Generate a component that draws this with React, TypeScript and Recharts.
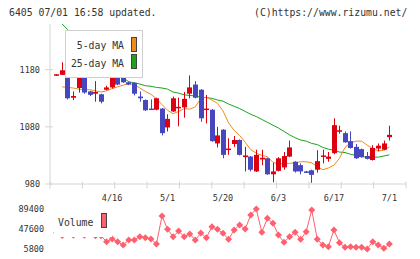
import { ComposedChart, Bar, Line, XAxis, YAxis } from "recharts";

const opens = [1170, 1171, 1166, 1131, 1148, 1178, 1142, 1138, 1137, 1145, 1149, 1171, 1167, 1158, 1157, 1133, 1127, 1112, 1110, 1112, 1079, 1107, 1113, 1114, 1138, 1154, 1145, 1110, 1110, 1051, 1075, 1040, 1050, 1057, 1027, 1028, 1002, 1023, 1025, 997, 1003, 1009, 1028, 1019, 1013, 1002, 1004, 1005, 1028, 1024, 1034, 1072, 1069, 1055, 1045, 1041, 1029, 1022, 1042, 1040, 1062];
const highs = [1172, 1193, 1179, 1142, 1180, 1180, 1143, 1160, 1138, 1152, 1180, 1173, 1168, 1159, 1158, 1142, 1128, 1128, 1131, 1113, 1102, 1133, 1131, 1141, 1170, 1160, 1146, 1136, 1111, 1080, 1076, 1060, 1064, 1058, 1045, 1029, 1040, 1040, 1026, 1017, 1027, 1036, 1056, 1020, 1016, 1003, 1005, 1039, 1040, 1036, 1095, 1082, 1072, 1072, 1050, 1042, 1036, 1048, 1051, 1056, 1082];
const lows = [1169, 1171, 1128, 1127, 1140, 1138, 1134, 1124, 1121, 1144, 1147, 1153, 1157, 1153, 1135, 1124, 1108, 1110, 1109, 1065, 1072, 1106, 1081, 1096, 1130, 1130, 1089, 1086, 1054, 1044, 1025, 1031, 1045, 1030, 1002, 1002, 1001, 1013, 996, 983, 1002, 1005, 1027, 1000, 997, 1000, 982, 1000, 1016, 1019, 1032, 1068, 1052, 1042, 1024, 1026, 1023, 1021, 1037, 1039, 1056];
const closes = [1172, 1179, 1130, 1134, 1177, 1140, 1136, 1141, 1124, 1149, 1171, 1154, 1158, 1154, 1138, 1130, 1109, 1111, 1130, 1069, 1094, 1130, 1115, 1129, 1149, 1131, 1095, 1112, 1055, 1065, 1031, 1042, 1057, 1031, 1030, 1005, 1031, 1026, 997, 1002, 1025, 1029, 1044, 1002, 1002, 1001, 996, 1020, 1030, 1028, 1083, 1074, 1053, 1043, 1025, 1027, 1024, 1043, 1047, 1051, 1066];

const ma5 = [null, 1150, 1149, 1148, 1146, 1145, 1145, 1143, 1141, 1143, 1147, 1150, 1153, 1156, 1154, 1148, 1142, 1137, 1129, 1119, 1109, 1103, 1107, 1112, 1111, 1115, 1130, 1132, 1127, 1121, 1108, 1087, 1074, 1065, 1053, 1040, 1034, 1030, 1028, 1018, 1015, 1016, 1016, 1017, 1019, 1019, 1017, 1010, 1005, 1008, 1013, 1025, 1044, 1052, 1055, 1055, 1048, 1042, 1038, 1039, 1045];
const ma25 = [1269, 1260, 1250, 1241, 1232, 1224, 1215, 1206, 1198, 1190, 1182, 1174, 1166, 1159, 1157, 1155, 1152, 1151, 1149, 1148, 1146, 1141, 1139, 1136, 1135, 1134, 1132, 1131, 1130, 1127, 1125, 1120, 1116, 1112, 1107, 1102, 1098, 1093, 1088, 1083, 1078, 1072, 1066, 1061, 1057, 1055, 1051, 1049, 1044, 1041, 1039, 1036, 1035, 1032, 1030, 1028, 1027, 1027, 1027, 1029, 1031];

const volumes = [40000, 34000, 43000, 34500, 46000, 34500, 41000, 33500, 33500, 21000, 26700, 21000, 14200, 24600, 24600, 31500, 29400, 26700, 16300, 74800, 47000, 31500, 43400, 31500, 37200, 24600, 39200, 29400, 52400, 47000, 38600, 26100, 45500, 56000, 47600, 76900, 89400, 40700, 70000, 59500, 35100, 19800, 31500, 40700, 26100, 42000, 87300, 26100, 14200, 10600, 45500, 19000, 9400, 10600, 9400, 9400, 5800, 21100, 14200, 7300, 16300];

const dateLabels = ["4/16", "5/1", "5/20", "6/3", "6/17", "7/1"];
const dateIdx = [10, 20, 30, 40, 50, 60];
const priceTicks = [980, 1080, 1180];
const volumeTicks = [5800, 47600, 89400];

const UP = "#dd0010";
const DOWN = "#4646bf";
const MA5_COLOR = "#f08c1a";
const MA25_COLOR = "#1aa51a";
const VOL_COLOR = "#ff6070";
const AXIS = "#d4d4d4";
const TEXT = "#333";
const MONO = '"DejaVu Sans Mono", monospace';

const X_DOMAIN: [number, number] = [-1.2, 63];
// 11 evenly spaced tick marks along the time axis, plus the date labels
const gridTicks = Array.from({ length: 12 }, (_, k) => X_DOMAIN[0] + (k * (X_DOMAIN[1] - X_DOMAIN[0])) / 11);
const xTicks = [...gridTicks, ...dateIdx].sort((a, b) => a - b);

const rows = opens.map((o, i) => ({
  i,
  o,
  h: highs[i],
  l: lows[i],
  c: closes[i],
  ma5: ma5[i],
  ma25: ma25[i],
  v: volumes[i],
}));

function Candle(props: any) {
  const { x, y, width, height, payload } = props;
  if (x == null || y == null) return null;
  const top = Math.min(y, y + height);
  const span = Math.abs(height);
  const ratio = span / (payload.h - payload.l);
  const cx = Math.round(x + width / 2) + 0.5;
  const up = payload.c >= payload.o;
  const color = up ? UP : DOWN;
  const bodyTop = top + (payload.h - Math.max(payload.o, payload.c)) * ratio;
  const bodyBottom = top + (payload.h - Math.min(payload.o, payload.c)) * ratio;
  const bodyH = Math.max(bodyBottom - bodyTop, 1.5);
  return (
    <g>
      <line x1={cx} x2={cx} y1={top} y2={top + span} stroke={color} strokeWidth={1} />
      <rect x={cx - 2.5} y={bodyTop} width={5} height={bodyH} fill={color} />
    </g>
  );
}

function PriceTick({ x, y, payload }: any) {
  return (
    <g>
      <line x1={x - 5} x2={x + 3} y1={y} y2={y} stroke={AXIS} />
      <text x={x - 10} y={y} dy="0.35em" textAnchor="end" fontSize={8.5} fontFamily={MONO} fill={TEXT}>
        {payload.value}
      </text>
    </g>
  );
}

function TimeTick({ x, y, payload }: any) {
  const k = dateIdx.indexOf(payload.value);
  if (k >= 0) {
    return (
      <text x={x} y={y + 14} dy="0.35em" textAnchor="middle" fontSize={8.5} fontFamily={MONO} fill={TEXT}>
        {dateLabels[k]}
      </text>
    );
  }
  return <line x1={x} x2={x} y1={y - 2.5} y2={y + 4.5} stroke={AXIS} />;
}

function VolumeTick({ x, y, payload }: any) {
  return (
    <text x={x - 6} y={y} dy="0.35em" textAnchor="end" fontSize={8.5} fontFamily={MONO} fill={TEXT}>
      {payload.value}
    </text>
  );
}

function Diamond({ cx, cy }: any) {
  if (cx == null || cy == null) return null;
  const r = 3.5;
  return <polygon points={`${cx},${cy - r} ${cx + r},${cy} ${cx},${cy + r} ${cx - r},${cy}`} fill={VOL_COLOR} />;
}

const swatch = (color: string, left: number, top: number) => (
  <div
    style={{
      position: "absolute",
      left,
      top,
      width: 6,
      height: 15,
      background: color,
      border: "1px solid #444",
      boxSizing: "border-box",
    }}
  />
);

const label = (text: string, right: number, top: number) => (
  <div
    style={{
      position: "absolute",
      right,
      top,
      fontFamily: MONO,
      fontSize: 9.8,
      lineHeight: "12px",
      color: TEXT,
      whiteSpace: "pre",
    }}
  >
    {text}
  </div>
);

export default function App() {
  return (
    <div style={{ position: "fixed", left: 0, top: 0, width: 420, height: 259, background: "#fff", overflow: "hidden" }}>
      <div style={{ position: "absolute", left: 9, top: 7, fontFamily: MONO, fontSize: 9.8, lineHeight: "12px", color: TEXT, whiteSpace: "pre" }}>
        6405 07/01 16:58 updated.
      </div>
      <div style={{ position: "absolute", left: 254, top: 7, fontFamily: MONO, fontSize: 9.8, lineHeight: "12px", color: TEXT, whiteSpace: "pre" }}>
        (C)https://www.rizumu.net/
      </div>

      {/* price pane */}
      <div style={{ position: "absolute", left: 0, top: 0 }}>
        <ComposedChart width={420} height={214} data={rows} margin={{ top: 24, right: 14, bottom: 0, left: 0 }}>
          <XAxis
            type="number"
            dataKey="i"
            domain={X_DOMAIN}
            ticks={xTicks}
            interval={0}
            allowDataOverflow
            height={30}
            tickSize={0}
            tickMargin={0}
            tickLine={false}
            axisLine={{ stroke: AXIS }}
            tick={<TimeTick />}
          />
          <YAxis
            type="number"
            domain={[980, 1260]}
            ticks={priceTicks}
            interval={0}
            allowDataOverflow
            width={50}
            tickSize={0}
            tickMargin={0}
            tickLine={false}
            axisLine={{ stroke: AXIS }}
            tick={<PriceTick />}
          />
          <Line dataKey="ma25" stroke={MA25_COLOR} strokeWidth={1} dot={false} isAnimationActive={false} />
          <Line dataKey="ma5" stroke={MA5_COLOR} strokeWidth={1} dot={false} isAnimationActive={false} connectNulls={false} />
          <Bar dataKey={(d: any) => [d.l, d.h]} barSize={5} shape={<Candle />} isAnimationActive={false} zIndex={500} />
        </ComposedChart>
      </div>

      {/* volume pane */}
      <div style={{ position: "absolute", left: 0, top: 0 }}>
        <ComposedChart width={420} height={259} data={rows} margin={{ top: 209, right: 14, bottom: 10, left: 0 }}>
          <XAxis type="number" dataKey="i" domain={X_DOMAIN} allowDataOverflow hide />
          <YAxis
            type="number"
            domain={[5800, 89400]}
            ticks={volumeTicks}
            interval={0}
            width={50}
            tickSize={0}
            tickMargin={0}
            tickLine={false}
            axisLine={false}
            tick={<VolumeTick />}
          />
          <Line dataKey="v" stroke={VOL_COLOR} strokeWidth={1} dot={<Diamond />} isAnimationActive={false} />
        </ComposedChart>
      </div>

      {/* MA legend */}
      <div
        style={{
          position: "absolute",
          left: 65,
          top: 30,
          width: 78,
          height: 48,
          background: "#fff",
          border: "1px solid #cfcfcf",
          boxSizing: "border-box",
        }}
      />
      {label("5-day MA", 420 - 124, 40)}
      {swatch(MA5_COLOR, 131, 37)}
      {label("25-day MA", 420 - 124, 57.5)}
      {swatch(MA25_COLOR, 131, 54)}

      {/* volume legend */}
      <div style={{ position: "absolute", left: 54, top: 207, width: 58, height: 29.5, background: "#fff" }} />
      <div style={{ position: "absolute", left: 58, top: 216.5, fontFamily: MONO, fontSize: 9.8, lineHeight: "12px", color: TEXT, whiteSpace: "pre" }}>
        Volume
      </div>
      {swatch(VOL_COLOR, 101, 213)}
    </div>
  );
}
